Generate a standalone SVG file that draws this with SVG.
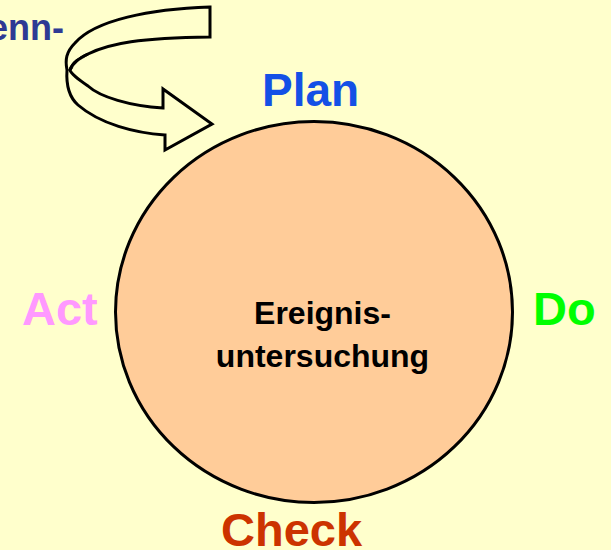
<svg xmlns="http://www.w3.org/2000/svg" width="611" height="550" viewBox="0 0 611 550">
  <style>
    .lbl { font-family: "Liberation Sans", Arial, sans-serif; font-weight: bold; }
    .big { font-size: 47px; }
    .ctr { font-size: 32px; fill: #000000; text-anchor: middle; }
    .arrow { fill: #FFFFCC; stroke: #000000; stroke-width: 3; stroke-linejoin: miter; }
  </style>
  <rect x="0" y="0" width="611" height="550" fill="#FFFFCC"/>
  <g id="side-text">
    <text class="lbl" x="-12" y="40" font-size="36" fill="#2E3A94">enn-</text>
  </g>
  <g id="connectors">
    <path class="arrow" d="M210,7 C150,9 95,20 75,43 C66,52 65,60 67,70 C66,85 69,97 78,105 C100,124 135,133 165,135 L165,150 L212,124 L163,89 L163,108 C130,106 100,97 88,86 C78,79 71,74 70,70 C73,62 80,58 88,54 C110,43 140,38 210,37 Z"/>
    <path class="arrow" fill="none" d="M70,70 C73,62 80,58 88,54"/>
  </g>
  <g id="cycle">
    <ellipse cx="314" cy="312" rx="198.5" ry="190.5" fill="#FFCC99" stroke="#000000" stroke-width="3"/>
    <text class="lbl ctr" x="322.5" y="324">Ereignis-</text>
    <text class="lbl ctr" x="322.5" y="367">untersuchung</text>
  </g>
  <g id="plan"><text class="lbl" x="262" y="106" font-size="46" fill="#1450E6">Plan</text></g>
  <g id="do"><text class="lbl big" x="533" y="325" fill="#00FF00">Do</text></g>
  <g id="check"><text class="lbl big" x="221" y="546" fill="#CC3300">Check</text></g>
  <g id="act"><text class="lbl big" x="22" y="325" fill="#FF99FF">Act</text></g>
</svg>
